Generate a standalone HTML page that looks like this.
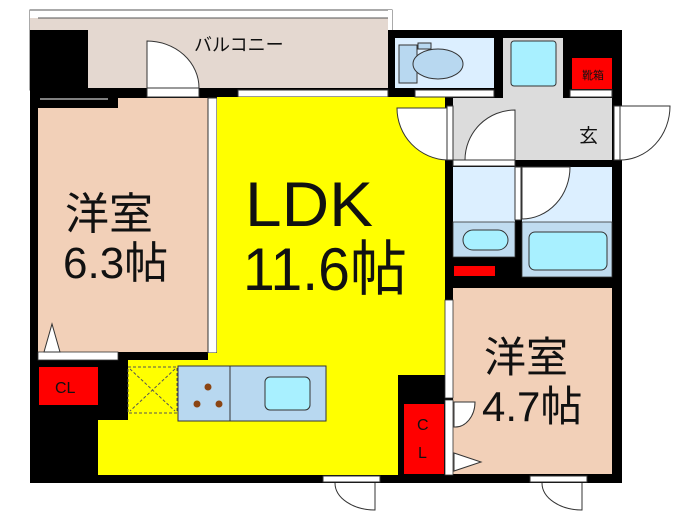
<!DOCTYPE html>
<html><head><meta charset="utf-8"><style>
html,body{margin:0;padding:0;background:#fff;width:700px;height:525px;overflow:hidden}
svg{display:block}
text{font-family:"Liberation Sans","Noto Sans CJK JP",sans-serif}
</style></head><body>
<svg width="700" height="525" viewBox="0 0 700 525" xmlns="http://www.w3.org/2000/svg">
<!-- balcony -->
<rect x="30" y="10" width="362" height="80" fill="#fff" stroke="#555" stroke-width="1"/>
<rect x="38" y="18" width="350" height="72" fill="#e4d8d0" stroke="#555" stroke-width="1"/>
<!-- building black base -->
<rect x="30" y="30" width="592" height="453" fill="#000"/>
<rect x="88" y="18" width="300" height="70" fill="#e4d8d0"/>
<rect x="30" y="18" width="58" height="12" fill="#e4d8d0"/>
<rect x="30" y="10" width="362" height="8" fill="#fff"/>
<line x1="30" y1="10" x2="392" y2="10" stroke="#555"/>
<line x1="38" y1="18" x2="388" y2="18" stroke="#555"/>
<rect x="388" y="10" width="4" height="20" fill="#fff"/>
<text x="194" y="51" font-size="18" fill="#111">バルコニー</text>
<!-- balcony door -->
<path d="M147 88 V41 A52 47 0 0 1 199 88 Z" fill="#fff" stroke="#333"/>
<rect x="147" y="88" width="52" height="9" fill="#fff" stroke="#333"/>
<rect x="238" y="90" width="150" height="7" fill="#fff" stroke="#333"/>
<!-- room 6.3 -->
<rect x="38" y="98" width="170" height="254" fill="#f2d0b8"/>
<rect x="38" y="98" width="80" height="10" fill="#000"/>
<line x1="40" y1="99" x2="108" y2="99" stroke="#aaa" stroke-width="1.5"/>
<rect x="208" y="98" width="9" height="255" fill="#fff" stroke="#333" stroke-width="1"/>
<rect x="38" y="352" width="80" height="8" fill="#fff" stroke="#333" stroke-width="0.8"/>
<path d="M44 352 L52 324 L60 352 Z" fill="#fff" stroke="#333"/>
<text x="65" y="229" font-size="44" fill="#111">洋室</text>
<text x="63" y="278" font-size="44" fill="#111">6.3帖</text>
<!-- CL left -->
<rect x="39" y="367" width="59" height="38" fill="#f00"/>
<text x="55" y="393" font-size="16" fill="#111">CL</text>
<!-- LDK -->
<path d="M217 97 H445 V375 H398 V475 H98 V420 H128 V360 H208 V353 H217 Z" fill="#ff0"/>
<rect x="128" y="367" width="49" height="46" fill="#ff0" stroke="#555" stroke-dasharray="3,2"/>
<line x1="130" y1="369" x2="175" y2="411" stroke="#555" stroke-dasharray="3,2"/>
<line x1="175" y1="369" x2="130" y2="411" stroke="#555" stroke-dasharray="3,2"/>
<rect x="178" y="366" width="148" height="55" fill="#b8d8f0" stroke="#333"/>
<line x1="230" y1="366" x2="230" y2="421" stroke="#333"/>
<circle cx="208" cy="387" r="3.5" fill="#8b4513"/>
<circle cx="197" cy="404" r="3.5" fill="#8b4513"/>
<circle cx="219" cy="404" r="3.5" fill="#8b4513"/>
<rect x="265" y="377" width="45" height="33" rx="5" fill="#a8f0ff" stroke="#333"/>
<text x="245" y="226" font-size="63" fill="#111" textLength="128" lengthAdjust="spacingAndGlyphs">LDK</text>
<text x="243" y="290" font-size="60" fill="#111" textLength="164" lengthAdjust="spacingAndGlyphs">11.6帖</text>
<!-- CL right -->
<rect x="404" y="404" width="40" height="70" fill="#f00"/>
<text x="417" y="430" font-size="16" fill="#111">C</text>
<text x="418" y="458" font-size="16" fill="#111">L</text>
<!-- room 4.7 -->
<rect x="453" y="288" width="159" height="186" fill="#f2d0b8"/>
<rect x="445" y="300" width="8" height="98" fill="#fff" stroke="#333" stroke-width="0.8"/>
<rect x="445" y="400" width="8" height="75" fill="#fff" stroke="#333" stroke-width="0.8"/>
<path d="M454 402 H475 A20 25 0 0 1 454 427 Z" fill="#fff" stroke="#333"/>
<path d="M454 453 L481 462 L454 471 Z" fill="#fff" stroke="#333"/>
<text x="484" y="372" font-size="42" fill="#111">洋室</text>
<text x="482" y="421" font-size="42" fill="#111">4.7帖</text>
<!-- toilet -->
<rect x="395" y="38" width="99" height="50" fill="#dcefff"/>
<rect x="399" y="45" width="18" height="38" fill="#b8d8f0" stroke="#333"/>
<rect x="418" y="43" width="13" height="6" fill="#b8d8f0" stroke="#333"/>
<ellipse cx="438" cy="64" rx="25" ry="15" fill="#b8d8f0" stroke="#333"/>
<rect x="415" y="90" width="79" height="7" fill="#fff" stroke="#333"/>
<!-- hall / genkan -->
<rect x="503" y="38" width="60" height="60" fill="#dcdcdc"/>
<rect x="511" y="41" width="45" height="45" rx="3" fill="#a8f0ff" stroke="#333"/>
<rect x="453" y="98" width="159" height="62" fill="#dcdcdc"/>
<rect x="572" y="58" width="40" height="31" fill="#f00"/>
<text x="582" y="79" font-size="11" fill="#111">靴箱</text>
<rect x="570" y="90" width="42" height="7" fill="#fff" stroke="#333"/>
<text x="579" y="142" font-size="19" fill="#111">玄</text>
<!-- inner door -->
<path d="M465 160 A50 50 0 0 1 515 110 V160 Z" fill="#fff" stroke="#333"/>
<rect x="453" y="160" width="62" height="6" fill="#fff" stroke="#333"/>
<!-- left door of genkan to LDK -->
<rect x="447" y="106" width="6" height="54" fill="#fff" stroke="#333"/>
<path d="M447 160 A52 52 0 0 1 397 108 H447 Z" fill="#fff" stroke="#333"/>
<!-- entrance door right -->
<rect x="614" y="106" width="6" height="54" fill="#fff" stroke="#333"/>
<path d="M620 106 H670 A50 54 0 0 1 620 160 Z" fill="#fff" stroke="#333"/>
<!-- washroom -->
<rect x="453" y="167" width="62" height="55" fill="#dcefff"/>
<rect x="453" y="222" width="62" height="35" fill="#c0dcf0" stroke="#333" stroke-width="0.8"/>
<rect x="463" y="230" width="45" height="20" rx="10" fill="#a8f0ff" stroke="#333"/>
<rect x="515" y="167" width="6" height="53" fill="#fff" stroke="#333"/>
<rect x="522" y="167" width="90" height="55" fill="#dcefff"/>
<path d="M522 167 H570 A48 52 0 0 1 522 219 Z" fill="#fff" stroke="#333"/>
<rect x="522" y="222" width="90" height="55" fill="#c0dcf0" stroke="#333" stroke-width="0.8"/>
<rect x="529" y="232" width="78" height="38" rx="6" fill="#a8f0ff" stroke="#333"/>
<rect x="454" y="266" width="41" height="10" fill="#f00"/>
<!-- bottom doors -->
<rect x="323" y="476" width="57" height="6" fill="#fff" stroke="#333"/>
<path d="M375 483 V510 A40 27 0 0 1 335 483" fill="none" stroke="#333"/>
<rect x="530" y="476" width="57" height="6" fill="#fff" stroke="#333"/>
<path d="M582 483 V510 A40 27 0 0 1 542 483" fill="none" stroke="#333"/>
</svg>
</body></html>
